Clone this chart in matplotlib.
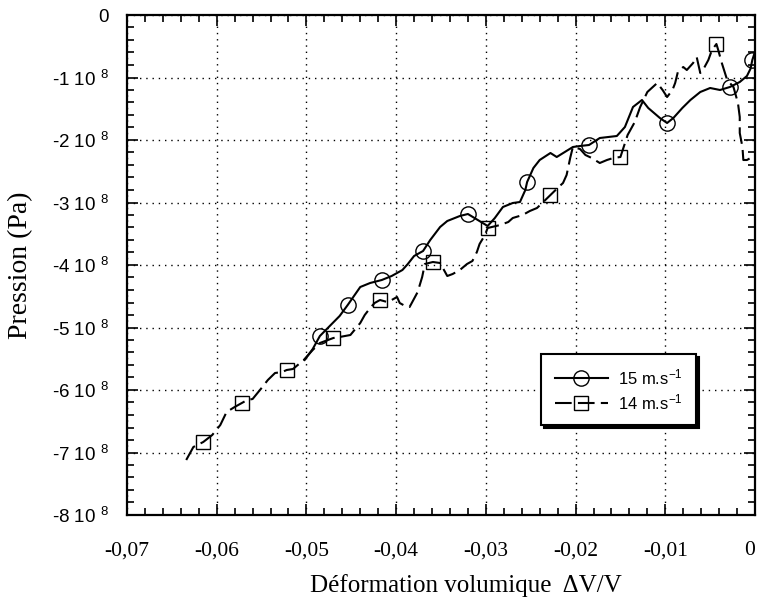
import matplotlib
matplotlib.use("Agg")
import matplotlib.pyplot as plt
from matplotlib.ticker import MultipleLocator, FuncFormatter

plt.rcParams['font.family'] = ['Liberation Sans', 'DejaVu Sans']
plt.rcParams['mathtext.default'] = 'regular'

# ---- data (pressure in units of 1e8 Pa) ----
strain_15 = [-0.0502, -0.0493, -0.0485, -0.0474, -0.0463, -0.0454, -0.0447, -0.0440,
             -0.0429, -0.0416, -0.0405, -0.0393, -0.0387, -0.0380, -0.0370, -0.0362,
             -0.0351, -0.0343, -0.0329, -0.0320, -0.0309, -0.0298, -0.0290, -0.0281,
             -0.0270, -0.0262, -0.0256, -0.0254, -0.0247, -0.0240, -0.0228, -0.0221,
             -0.0212, -0.0203, -0.0195, -0.0185, -0.0173, -0.0154, -0.0145, -0.0136,
             -0.0126, -0.0119, -0.0106, -0.0098, -0.0091, -0.0081, -0.0072, -0.0061,
             -0.0050, -0.0039, -0.0028, -0.0017, -0.0009, -0.0005, -0.0003, 0.0]
pressure_15 = [-5.52, -5.344, -5.136, -4.976, -4.816, -4.64, -4.496, -4.352,
               -4.288, -4.24, -4.176, -4.08, -3.984, -3.856, -3.776, -3.6,
               -3.392, -3.296, -3.216, -3.184, -3.28, -3.376, -3.248, -3.072,
               -3.008, -2.992, -2.8, -2.672, -2.448, -2.32, -2.208, -2.272,
               -2.192, -2.112, -2.096, -2.08, -1.968, -1.936, -1.792, -1.472,
               -1.36, -1.488, -1.648, -1.728, -1.648, -1.488, -1.36, -1.232,
               -1.168, -1.2, -1.152, -1.072, -0.976, -0.86, -0.72, -0.59]
marks_15 = [2, 5, 9, 14, 19, 27, 35, 43, 50, 54]

strain_14 = [-0.0634, -0.0626, -0.0615, -0.0605, -0.0596, -0.0589, -0.0580, -0.0572,
             -0.0566, -0.0560, -0.0550, -0.0543, -0.0535, -0.0527, -0.0522, -0.0515,
             -0.0503, -0.0493, -0.0485, -0.0470, -0.0463, -0.0451, -0.0440, -0.0435,
             -0.0429, -0.0424, -0.0418, -0.0410, -0.0405, -0.0399, -0.0396, -0.0390,
             -0.0385, -0.0376, -0.0371, -0.0368, -0.0359, -0.0351, -0.0343, -0.0337,
             -0.0329, -0.0321, -0.0315, -0.0310, -0.0307, -0.0301, -0.0298, -0.0284,
             -0.0275, -0.0270, -0.0259, -0.0251, -0.0243, -0.0236, -0.0228, -0.0220,
             -0.0214, -0.0210, -0.0206, -0.0203, -0.0195, -0.0189, -0.0182, -0.0173,
             -0.0165, -0.0158, -0.0150, -0.0142, -0.0134, -0.0128, -0.0120, -0.0109,
             -0.0103, -0.0098, -0.0092, -0.0089, -0.0086, -0.0080, -0.0076, -0.0069,
             -0.0065, -0.0061, -0.0058, -0.0052, -0.0048, -0.0043, -0.0041, -0.0037,
             -0.0031, -0.0024, -0.0019, -0.0017, -0.0017, -0.0014, -0.0013, -0.0009,
             -0.0003, 0.0]
pressure_14 = [-7.12, -6.912, -6.832, -6.72, -6.56, -6.352, -6.272, -6.208,
               -6.16, -6.144, -5.968, -5.84, -5.728, -5.712, -5.68, -5.664,
               -5.52, -5.36, -5.248, -5.168, -5.152, -5.12, -4.928, -4.8,
               -4.688, -4.608, -4.56, -4.592, -4.56, -4.512, -4.608, -4.656,
               -4.672, -4.432, -4.192, -3.984, -3.952, -3.968, -4.176, -4.144,
               -4.08, -3.984, -3.936, -3.792, -3.664, -3.52, -3.408, -3.36,
               -3.312, -3.248, -3.2, -3.136, -3.088, -2.992, -2.88, -2.768,
               -2.688, -2.56, -2.288, -2.112, -2.144, -2.24, -2.288, -2.368,
               -2.32, -2.288, -2.272, -1.92, -1.712, -1.472, -1.232, -1.088,
               -1.2, -1.312, -1.2, -1.088, -0.912, -0.832, -0.88, -0.768,
               -0.672, -0.928, -0.88, -0.72, -0.56, -0.464, -0.56, -0.768,
               -1.04, -1.152, -1.408, -1.632, -1.888, -2.112, -2.32, -2.32,
               -2.272, -2.24]
marks_14 = [2, 7, 14, 19, 26, 36, 46, 54, 66, 85]

labels = ["15 m.s$^{-1}$", "14 m.s$^{-1}$"]

# ---- figure ----
fig = plt.figure(figsize=(7.58, 5.98), dpi=100)
ax = fig.add_axes([127/758, 1-515/598, 628/758, 500/598])

ax.plot(strain_15, pressure_15, color='black', lw=1.5, linestyle='-',
        marker='o', markevery=marks_15, markersize=11, markerfacecolor='none',
        markeredgecolor='black', markeredgewidth=1.0, label=labels[0])
ax.plot(strain_14, pressure_14, color='black', lw=1.5, linestyle=(0, (8, 3)),
        marker='s', markevery=marks_14, markersize=9.5, markerfacecolor='none',
        markeredgecolor='black', markeredgewidth=1.0, label=labels[1])

ax.set_xlim(-0.07, 0)
ax.set_ylim(-8, 0)
ax.xaxis.set_major_locator(MultipleLocator(0.01))
ax.xaxis.set_minor_locator(MultipleLocator(0.002))
ax.yaxis.set_major_locator(MultipleLocator(1))
ax.yaxis.set_minor_locator(MultipleLocator(0.2))

def xfmt(v, pos):
    if abs(v) < 1e-9:
        return "0"
    return f"{v:.2f}".replace('.', ',')

def yfmt(v, pos):
    n = int(round(v))
    if n == 0:
        return "0"
    return f"{n} 10 $^{{8}}$"

ax.xaxis.set_major_formatter(FuncFormatter(xfmt))
ax.yaxis.set_major_formatter(FuncFormatter(yfmt))

ax.tick_params(which='both', direction='in', top=True, right=True, width=1.2, color='black')
ax.tick_params(which='major', length=8)
ax.tick_params(which='minor', length=5)
ax.tick_params(axis='y', which='major', pad=13, labelsize=13.5)
ax.tick_params(axis='x', which='major', pad=19, labelsize=15.5)

fig.canvas.draw()
for lab in ax.get_xticklabels():
    lab.set_fontfamily('Liberation Serif')
    if lab.get_text() == "0":
        lab.set_horizontalalignment('right')

for sp in ax.spines.values():
    sp.set_linewidth(1.6)

ax.grid(which='major', color='black', linestyle=(0, (1, 3.5)), linewidth=1.0)

ax.set_xlabel("Déformation volumique  ΔV/V", fontsize=18, family='Liberation Serif')
ax.xaxis.set_label_coords(0.54, -0.118)
ax.set_ylabel("Pression (Pa)", fontsize=20, family='Liberation Serif')
ax.yaxis.set_label_coords(-0.15, 0.5)

leg = ax.legend(loc='center', bbox_to_anchor=(0.783, 0.251), fontsize=12,
                frameon=True, fancybox=False, shadow={'color': 'black', 'alpha': 1},
                edgecolor='black', framealpha=1, handlelength=3.2,
                borderpad=0.8, labelspacing=0.3, handletextpad=0.6)
leg.get_frame().set_linewidth(1.5)

fig.savefig("out.png", dpi=100)
